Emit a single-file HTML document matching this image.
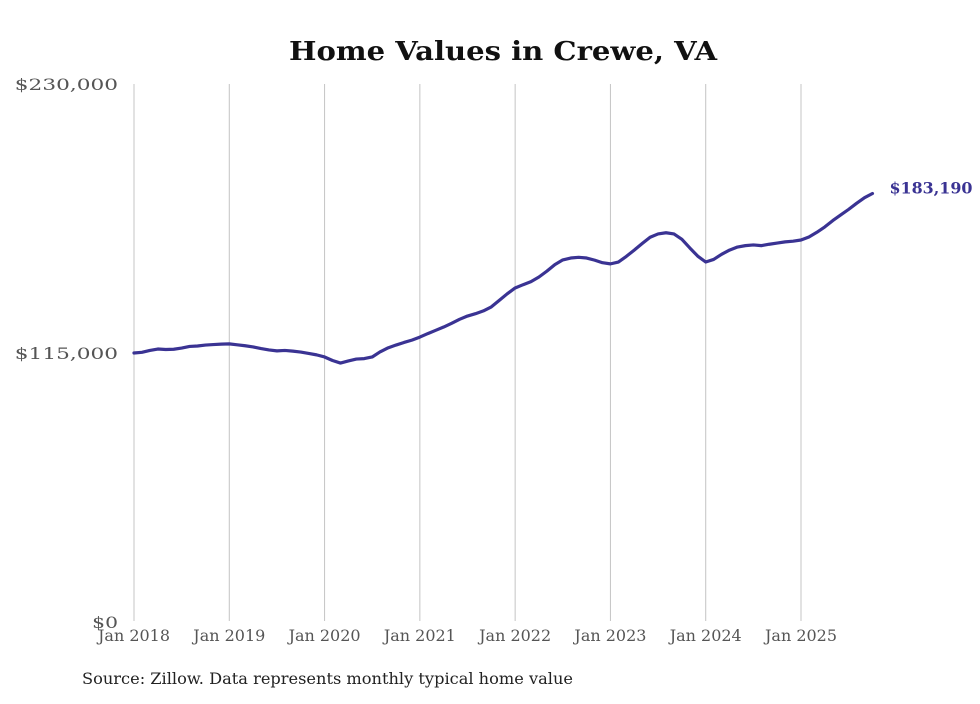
<!DOCTYPE html>
<html><head><meta charset="utf-8"><style>
body{margin:0;background:#fff;}
svg text{font-family:"DejaVu Serif","Liberation Serif",serif;}
</style></head><body>
<svg width="980" height="699" viewBox="0 0 980 699">
<text x="503" y="60" text-anchor="middle" font-size="26" font-weight="bold" fill="#111" textLength="428" lengthAdjust="spacingAndGlyphs">Home Values in Crewe, VA</text>
<g id="grid"></g><g id="yaxis"></g><g id="xaxis"></g><g id="series"></g>
<text x="82" y="684" font-size="16" fill="#222" textLength="491" lengthAdjust="spacingAndGlyphs">Source: Zillow. Data represents monthly typical home value</text>
</svg>
<script>
const yTicks=[0,115000,230000];
const yTickLabels=["$0","$115,000","$230,000"];
const xTickYears=[2018,2019,2020,2021,2022,2023,2024,2025];
const xTickLabels=["Jan 2018","Jan 2019","Jan 2020","Jan 2021","Jan 2022","Jan 2023","Jan 2024","Jan 2025"];
const values=[115.0,115.3,116.1,116.7,116.5,116.6,117.1,117.8,118.0,118.4,118.6,118.8,
118.9,118.5,118.1,117.6,116.9,116.3,115.9,116.1,115.8,115.4,114.8,114.2,
113.3,111.8,110.7,111.6,112.4,112.6,113.3,115.5,117.2,118.4,119.5,120.5,
121.8,123.3,124.7,126.1,127.7,129.4,130.8,131.8,133.0,134.7,137.5,140.3,
142.8,144.2,145.5,147.5,150.0,152.8,154.8,155.6,155.9,155.6,154.7,153.6,
153.1,153.9,156.3,159.0,161.8,164.5,165.9,166.4,165.9,163.6,159.9,156.4,
153.9,155.0,157.2,159.0,160.3,160.9,161.2,160.9,161.5,162.0,162.5,162.8,
163.3,164.6,166.6,168.9,171.6,174.0,176.4,179.0,181.4,183.19];
const endLabel="$183,190";
const NS="http://www.w3.org/2000/svg";
const x=m=>134+m*(667/84);
const y=v=>622-v/230000*538;
function mk(tag,attrs,parent,text){const e=document.createElementNS(NS,tag);for(const k in attrs)e.setAttribute(k,attrs[k]);if(text!==undefined)e.textContent=text;document.getElementById(parent).appendChild(e);return e;}
xTickYears.forEach((yr,i)=>{
 const m=(yr-2018)*12;
 const g=mk('line',{x1:x(m),x2:x(m),y1:84,y2:621,stroke:'#c4c4c4','stroke-width':1},'grid');
 
 
 const t=mk('text',{x:x(m),y:641,'text-anchor':'middle','font-size':16,fill:'#555',textLength:72,lengthAdjust:'spacingAndGlyphs'},'xaxis',xTickLabels[i]);
 
 
});
yTicks.forEach((v,i)=>{
 const t=mk('text',{x:118,y:y(v)+6,'text-anchor':'end','font-size':16,fill:'#555',textLength:yTickLabels[i].length*12.9,lengthAdjust:'spacingAndGlyphs'},'yaxis',yTickLabels[i]);
 
 
});
const d=values.map((v,i)=>(i?'L':'M')+x(i).toFixed(2)+','+y(v*1000).toFixed(2)).join(' ');
const p=mk('path',{d:d,fill:'none',stroke:'#3a3393','stroke-width':3.2,'stroke-linejoin':'round','stroke-linecap':'round'},'series');


const li=values.length-1;
const lt=mk('text',{x:x(li)+17,y:y(values[li]*1000)+0,'font-size':16,'font-weight':'bold',fill:'#3a3393',textLength:83,lengthAdjust:'spacingAndGlyphs'},'series',endLabel);


</script>
</body></html>
